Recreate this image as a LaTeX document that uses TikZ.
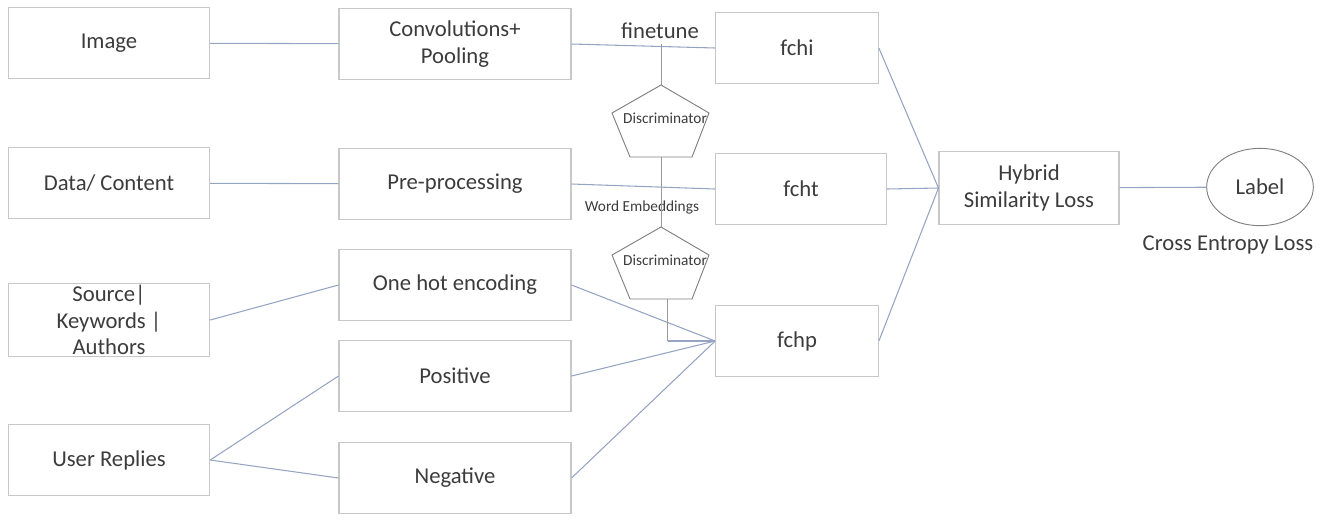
\documentclass[tikz,border=0pt]{standalone}
\usepackage{fontspec}
\setmainfont{Carlito}
\usetikzlibrary{shapes.geometric}

\definecolor{boxgray}{RGB}{200,200,200}
\definecolor{linkblue}{RGB}{150,164,196}
\definecolor{pentgray}{RGB}{128,128,128}
\definecolor{txt}{RGB}{60,60,60}

\begin{document}
\begin{tikzpicture}[x=0.75pt,y=-0.75pt,
  box/.style={draw=boxgray,line width=0.8pt,fill=white,text=txt,align=center,
    font=\fontsize{17}{20}\selectfont,minimum width=#1,minimum height=53pt,inner sep=1pt},
  box/.default=151pt,
  link/.style={draw=linkblue,line width=0.8pt},
  tap/.style={draw=pentgray!80,line width=0.7pt},
  small/.style={text=txt,font=\fontsize{11.5}{13}\selectfont,inner sep=0pt},
  big/.style={text=txt,font=\fontsize{17}{20}\selectfont,inner sep=0pt}]

\useasboundingbox (0,0) rectangle (1331,519);

%box sizes
\def\wmid{174pt}
\def\wfc{122pt}

%input column
\node[box] (image)  at (109,43)  {Image};
\node[box] (data)   at (109,183) {Data/ Content};
\node[box] (source) at (109,320) {Source|\\Keywords |\\Authors};
\node[box] (user)   at (109,460) {User Replies};

%feature column
\node[box=\wmid] (conv)     at (455,44)  {Convolutions+\\Pooling};
\node[box=\wmid] (pre)      at (455,184) {Pre-processing};
\node[box=\wmid] (onehot)   at (455,285) {One hot encoding};
\node[box=\wmid] (positive) at (455,376) {Positive};
\node[box=\wmid] (negative) at (455,478) {Negative};

%fully connected heads
\node[box=\wfc]   (fchi) at (797,48)  {fchi};
\node[box=128pt]  (fcht) at (801,189) {fcht};
\node[box=\wfc]   (fchp) at (797,341) {fchp};

%loss
\node[box=135pt,minimum height=55pt] (hybrid) at (1029,188) {Hybrid\\Similarity Loss};
\node[ellipse,draw=pentgray,line width=0.7pt,text=txt,font=\fontsize{17}{20}\selectfont,
  minimum width=80pt,minimum height=58pt,inner sep=0pt] (label) at (1260,187) {Label};
\node[big] (celoss) at (1228,245) {Cross Entropy Loss};

%discriminators
\foreach \x/\y [count = \i] in {661/85,661/227}{
    \coordinate (d\i top) at (\x,\y);
    \coordinate (d\i bot) at (\x,\y+72);
    \draw[pentgray,line width=0.7pt] (\x,\y) -- (\x+48,\y+28) -- (\x+31,\y+72)
        -- (\x-31,\y+72) -- (\x-49,\y+28) -- cycle;
    \node[small] (disc\i) at (\x+4,\y+33) {Discriminator};
}

%labels on links
\node[big] (finetune) at (660,31) {finetune};
\node[small] (wordemb) at (642,207) {Word Embeddings};

%draw edges
\draw[link] (image) -- (conv);
\draw[link] (data) -- (pre);
\draw[link] (source.east) -- (onehot.west);
\draw[link] (user.east) -- (positive.west);
\draw[link] (user.east) -- (negative.west);
\draw[link] (conv.east) -- (fchi.west);
\draw[link] (pre.east) -- (fcht.west);
\draw[link] (onehot.east) -- (fchp.west);
\draw[link] (positive.east) -- (fchp.west);
\draw[link] (negative.east) -- (fchp.west);
\draw[link] (fchi.east) -- (hybrid.west);
\draw[link] (fcht.east) -- (hybrid.west);
\draw[link] (fchp.east) -- (hybrid.west);
\draw[link] (hybrid) -- (label);

%discriminator taps
\coordinate (ft) at (d1top |- conv.east);
\coordinate (pe) at ([xshift=5pt]d2bot |- fchp.west);
\draw[tap] (ft) -- (d1top);
\draw[tap] (d1bot) -- (d2top);
\draw[tap] ([xshift=5pt]d2bot) -- (pe);
\draw[link] (pe) -- (fchp.west);

\end{tikzpicture}
\end{document}
